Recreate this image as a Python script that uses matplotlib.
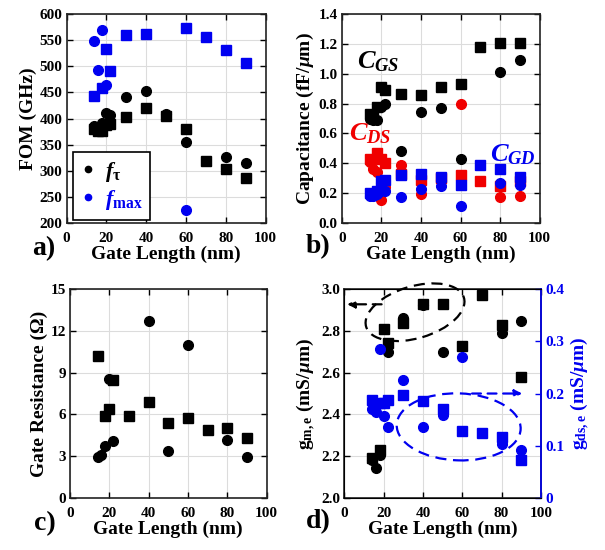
import numpy as np
import matplotlib
matplotlib.use("Agg")
import matplotlib.pyplot as plt
import matplotlib.transforms as mtransforms
from matplotlib.patches import Ellipse
from matplotlib.lines import Line2D

plt.rcParams["font.family"] = ["Liberation Serif", "DejaVu Serif"]
plt.rcParams["font.weight"] = "bold"
plt.rcParams["mathtext.fontset"] = "custom"
plt.rcParams["mathtext.rm"] = "Liberation Serif:bold"
plt.rcParams["mathtext.it"] = "Liberation Serif:italic:bold"
plt.rcParams["mathtext.bf"] = "Liberation Serif:bold"

BLUE = "#0000F0"
RED = "#F00000"

# ---- a) FOM ----
ft_sq_x = [14, 16, 18, 20, 22, 30, 40, 50, 60, 70, 80, 90]
ft_sq = [380, 376, 376, 388, 390, 402, 420, 405, 380, 319, 303, 286]
ft_ci_x = [14, 16, 18, 20, 22, 30, 40, 50, 60, 80, 90]
ft_ci = [386, 382, 391, 411, 406, 442, 452, 409, 354, 327, 315]
fmax_sq_x = [14, 18, 20, 22, 30, 40, 60, 70, 80, 90]
fmax_sq = [443, 459, 533, 492, 561, 563, 574, 556, 531, 507]
fmax_ci_x = [14, 16, 18, 20, 60]
fmax_ci = [549, 494, 570, 464, 224]

# ---- b) capacitances ----
cgs_sq_x = [14, 16, 18, 20, 22, 30, 40, 50, 60, 70, 80, 90]
cgs_sq = [0.73, 0.71, 0.78, 0.91, 0.89, 0.865, 0.855, 0.91, 0.935, 1.18, 1.205, 1.205]
cgs_ci_x = [14, 16, 18, 20, 22, 30, 40, 50, 60, 80, 90]
cgs_ci = [0.70, 0.69, 0.69, 0.78, 0.80, 0.48, 0.745, 0.77, 0.43, 1.01, 1.095]
cds_sq_x = [14, 18, 20, 22, 30, 40, 50, 60, 70, 80, 90]
cds_sq = [0.43, 0.47, 0.43, 0.40, 0.33, 0.29, 0.30, 0.32, 0.28, 0.25, 0.28]
cds_ci_x = [14, 16, 18, 20, 22, 30, 40, 50, 60, 80, 90]
cds_ci = [0.41, 0.36, 0.34, 0.15, 0.24, 0.39, 0.19, 0.29, 0.80, 0.17, 0.18]
cgd_sq_x = [14, 16, 18, 20, 22, 30, 40, 50, 60, 70, 80, 90]
cgd_sq = [0.20, 0.19, 0.21, 0.28, 0.29, 0.32, 0.325, 0.31, 0.255, 0.39, 0.36, 0.31]
cgd_ci_x = [14, 16, 18, 20, 22, 30, 40, 50, 60, 80, 90]
cgd_ci = [0.18, 0.18, 0.19, 0.27, 0.21, 0.175, 0.23, 0.245, 0.115, 0.27, 0.255]

# ---- c) gate resistance ----
rg_sq_x = [14, 18, 20, 22, 30, 40, 50, 60, 70, 80, 90]
rg_sq = [10.2, 5.85, 6.4, 8.45, 5.9, 6.9, 5.35, 5.75, 4.9, 5.05, 4.3]
rg_ci_x = [14, 16, 18, 20, 22, 40, 50, 60, 80, 90]
rg_ci = [2.95, 3.05, 3.75, 8.55, 4.1, 12.7, 3.35, 11.0, 4.15, 2.9]

# ---- d) gm / gds ----
gm_sq_x = [14, 18, 20, 22, 30, 40, 50, 60, 70, 80, 90]
gm_sq = [2.19, 2.23, 2.81, 2.74, 2.84, 2.93, 2.93, 2.73, 2.975, 2.83, 2.58]
gm_ci_x = [14, 16, 18, 22, 30, 40, 50, 80, 90]
gm_ci = [2.18, 2.145, 2.205, 2.70, 2.86, 2.925, 2.70, 2.79, 2.85]
gds_sq_x = [14, 18, 20, 22, 30, 40, 50, 60, 70, 80, 90]
gds_sq = [0.187, 0.181, 0.182, 0.187, 0.198, 0.186, 0.17, 0.129, 0.124, 0.116, 0.072]
gds_ci_x = [14, 16, 18, 20, 22, 30, 40, 50, 60, 80, 90]
gds_ci = [0.170, 0.165, 0.285, 0.156, 0.136, 0.226, 0.136, 0.159, 0.270, 0.103, 0.092]

MS = 7
TICK_FS = 11
LABEL_FS = 14


def style(ax, yticks, ylabels=None):
    ax.set_xlim(0, 100)
    ax.set_xticks([0, 20, 40, 60, 80, 100])
    ax.set_ylim(yticks[0], yticks[-1])
    ax.set_yticks(yticks)
    if ylabels is not None:
        ax.set_yticklabels(ylabels)
    ax.grid(color="#dcdcdc", lw=0.8)
    ax.set_axisbelow(True)
    ax.tick_params(direction="in", length=4, width=1, labelsize=TICK_FS, pad=3,
                   top=True, right=True)
    ax.tick_params(axis="x", pad=7)
    for s in ax.spines.values():
        s.set_linewidth(1.2)
        s.set_color("#222222")
    ax.set_xlabel("Gate Length (nm)", fontsize=LABEL_FS, fontweight="bold", labelpad=0)


def pts(ax, x, y, marker, color):
    ax.plot(x, y, ls="none", marker=marker, ms=MS, color=color, mec=color, zorder=3)


fig = plt.figure(figsize=(6.05, 5.5), dpi=100)

# a)
ax_a = fig.add_axes([0.110, 0.595, 0.329, 0.379])
pts(ax_a, ft_sq_x, ft_sq, "s", "k")
pts(ax_a, ft_ci_x, ft_ci, "o", "k")
pts(ax_a, fmax_sq_x, fmax_sq, "s", BLUE)
pts(ax_a, fmax_ci_x, fmax_ci, "o", BLUE)
style(ax_a, np.arange(200, 601, 50))
ax_a.set_ylabel("FOM (GHz)", fontsize=LABEL_FS, fontweight="bold", labelpad=2)
handles = [Line2D([], [], ls="none", marker="o", ms=4.5, color="k"),
           Line2D([], [], ls="none", marker="o", ms=4.5, color=BLUE)]
leg = ax_a.legend(handles, [r"$f_{\mathbf{\tau}}$", r"$f_{\mathbf{max}}$"],
                  loc="lower left", bbox_to_anchor=(0.03, 0.013), fontsize=16,
                  labelcolor=["k", BLUE], fancybox=False, edgecolor="k",
                  handlelength=0.7, handletextpad=0.4, borderpad=0.35,
                  labelspacing=0.2, borderaxespad=0, framealpha=1)
leg.get_frame().set_linewidth(1.2)

# b)
ax_b = fig.add_axes([0.565, 0.595, 0.327, 0.379])
pts(ax_b, cgs_sq_x, cgs_sq, "s", "k")
pts(ax_b, cgs_ci_x, cgs_ci, "o", "k")
pts(ax_b, cds_sq_x, cds_sq, "s", RED)
pts(ax_b, cds_ci_x, cds_ci, "o", RED)
pts(ax_b, cgd_sq_x, cgd_sq, "s", BLUE)
pts(ax_b, cgd_ci_x, cgd_ci, "o", BLUE)
style(ax_b, np.arange(0, 1.41, 0.2), [f"{v:.1f}" for v in np.arange(0, 1.41, 0.2)])
ax_b.set_ylabel(r"Capacitance (fF/$\mu$m)", fontsize=LABEL_FS, fontweight="bold", labelpad=2)
ax_b.text(7.5, 1.08, r"$C_{GS}$", fontsize=19, color="k", va="center")
ax_b.text(3.5, 0.60, r"$C_{DS}$", fontsize=19, color=RED, va="center")
ax_b.text(75, 0.455, r"$C_{GD}$", fontsize=19, color=BLUE, va="center")

# c)
ax_c = fig.add_axes([0.1157, 0.095, 0.325, 0.379])
pts(ax_c, rg_sq_x, rg_sq, "s", "k")
pts(ax_c, rg_ci_x, rg_ci, "o", "k")
style(ax_c, np.arange(0, 15.1, 3))
ax_c.set_ylabel("Gate Resistance (Ω)", fontsize=LABEL_FS, fontweight="bold", labelpad=2)

# d)
ax_d = fig.add_axes([0.569, 0.095, 0.325, 0.379])
pts(ax_d, gm_sq_x, gm_sq, "s", "k")
pts(ax_d, gm_ci_x, gm_ci, "o", "k")
style(ax_d, np.arange(2.0, 3.01, 0.2), [f"{v:.1f}" for v in np.arange(2.0, 3.01, 0.2)])
ax_d.tick_params(right=False)
ax_d.set_ylabel(r"$\mathbf{g}_{\mathbf{m,e}}$ (mS/$\mu$m)", fontsize=LABEL_FS,
                fontweight="bold", labelpad=2)
ax_d2 = ax_d.twinx()
pts(ax_d2, gds_sq_x, gds_sq, "s", BLUE)
pts(ax_d2, gds_ci_x, gds_ci, "o", BLUE)
ax_d2.set_ylim(0, 0.4)
ax_d2.set_yticks([0, 0.1, 0.2, 0.3, 0.4])
ax_d2.set_yticklabels(["0", "0.1", "0.2", "0.3", "0.4"])
ax_d2.tick_params(direction="in", length=4, width=1, labelsize=TICK_FS, pad=3,
                  colors=BLUE)
ax_d2.spines["right"].set_color(BLUE)
ax_d2.spines["right"].set_linewidth(1.2)
ax_d2.set_ylabel(r"$\mathbf{g}_{\mathbf{ds,e}}$ (mS/$\mu$m)", fontsize=LABEL_FS,
                 fontweight="bold", color=BLUE, labelpad=3)

# dashed ellipses and arrows in d)
for cx, cy, w, h, ang, col, ax in [(0.36, 0.89, 1.02, 0.52, 16.5, "k", ax_d),
                                    (0.582, 0.34, 1.24, 0.67, -2, BLUE, ax_d2)]:
    tr = fig.dpi_scale_trans + mtransforms.ScaledTranslation(cx, cy, ax.transAxes)
    ax.add_patch(Ellipse((0, 0), w, h, angle=ang, transform=tr, fill=False,
                         ec=col, lw=1.6, ls=(0, (5, 3)), clip_on=False, zorder=4))
ax_d.annotate("", xy=(1.5, 2.928), xytext=(19, 2.928),
              arrowprops=dict(arrowstyle="-|>", ls=(0, (4, 3)), color="k", lw=1.6,
                              mutation_scale=11, shrinkA=0, shrinkB=0))
ax_d2.annotate("", xy=(90.5, 0.2), xytext=(65, 0.2),
               arrowprops=dict(arrowstyle="-|>", ls=(0, (4, 3)), color=BLUE, lw=1.6,
                               mutation_scale=11, shrinkA=0, shrinkB=0))

# panel letters
for x, y, t in [(0.053, 0.537, "a)"), (0.505, 0.54, "b)"),
                (0.056, 0.037, "c)"), (0.505, 0.04, "d)")]:
    fig.text(x, y, t, fontsize=20, fontweight="bold")

fig.savefig("out.png", dpi=100)
